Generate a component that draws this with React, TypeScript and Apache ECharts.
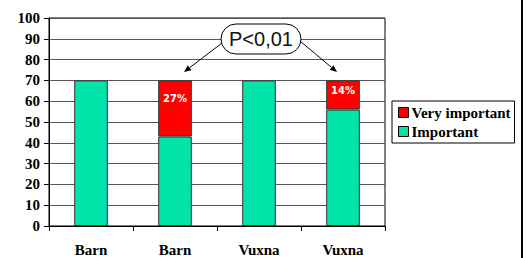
import React, { useEffect, useRef } from "react";
import * as echarts from "echarts";

const categories = ["Barn", "Barn", "Vuxna", "Vuxna"];
const importantValues = [70, 43, 70, 56];
const veryImportantValues: (number | null)[] = [null, 27, null, 14];
const veryLabelDistances = [0, 13, 0, 5];
const yTicks = { min: 0, max: 100, interval: 10 };
const annotationText = "P<0,01";

const SERIF = "'Liberation Serif', 'Times New Roman', serif";

function arrow(x1: number, y1: number, x2: number, y2: number) {
  const dx = x2 - x1, dy = y2 - y1;
  const len = Math.sqrt(dx * dx + dy * dy);
  const ux = dx / len, uy = dy / len;
  const hl = 7, hw = 3;
  const bx = x2 - ux * hl, by = y2 - uy * hl;
  const px = -uy * hw, py = ux * hw;
  return [
    { type: "line", shape: { x1, y1, x2: bx, y2: by }, style: { stroke: "#000", lineWidth: 1 }, z: 100 },
    { type: "polygon", shape: { points: [[x2, y2], [bx + px, by + py], [bx - px, by - py]] }, style: { fill: "#000" }, z: 100 },
  ];
}

export default function App() {
  const ref = useRef<HTMLDivElement>(null);
  useEffect(() => {
    const chart = echarts.init(ref.current!, null, { renderer: "svg" });
    chart.setOption({
      animation: false,
      backgroundColor: "#fff",
      grid: { left: 49, right: 141, top: 18, bottom: 32, show: true, borderColor: "#000", borderWidth: 1 },
      legend: {
        orient: "vertical",
        left: 392,
        top: 101,
        borderColor: "#000",
        borderWidth: 1,
        padding: [4, 4, 4, 6],
        itemGap: 4,
        itemWidth: 10,
        itemHeight: 10,
        icon: "rect",
        data: ["Very important", "Important"],
        textStyle: { fontFamily: SERIF, fontWeight: "bold", color: "#000", fontSize: 15, padding: [0, 0, 0, -2] },
        itemStyle: { borderColor: "#000", borderWidth: 1 },
      },
      xAxis: {
        type: "category",
        data: categories,
        axisLine: { lineStyle: { color: "#000", width: 1 } },
        axisTick: { show: true, length: 5, lineStyle: { color: "#000" } },
        axisLabel: { fontFamily: SERIF, fontWeight: "bold", color: "#000", fontSize: 15, margin: 16 },
      },
      yAxis: {
        type: "value",
        min: yTicks.min,
        max: yTicks.max,
        interval: yTicks.interval,
        axisLine: { show: true, lineStyle: { color: "#000", width: 1 } },
        axisTick: { show: true, length: 5, lineStyle: { color: "#000" } },
        axisLabel: { fontFamily: SERIF, fontWeight: "bold", color: "#000", fontSize: 15, margin: 9 },
        splitLine: { lineStyle: { color: "#555", width: 1 } },
      },
      series: [
        {
          name: "Important",
          type: "bar",
          stack: "total",
          barWidth: "40%",
          data: importantValues,
          itemStyle: { color: "#00E3A9", borderColor: "#333", borderWidth: 1 },
        },
        {
          name: "Very important",
          type: "bar",
          stack: "total",
          barWidth: "40%",
          data: veryImportantValues.map((v, i) =>
            v == null
              ? "-"
              : { value: v, label: { show: true, position: "insideTop", distance: veryLabelDistances[i] } }
          ),
          itemStyle: { color: "#FF0000", borderColor: "#333", borderWidth: 1 },
          label: {
            show: true,
            formatter: "{c}%",
            color: "#fff",
            fontFamily: "DejaVu Sans",
            fontWeight: "bold",
            fontSize: 10,
          },
        },
      ],
      graphic: [
        ...arrow(222, 43, 184, 72),
        ...arrow(300, 41, 337, 72),
        {
          type: "rect",
          shape: { x: 221, y: 24, width: 80, height: 30, r: 15 },
          style: { fill: "#fff", stroke: "#000", lineWidth: 1 },
          z: 101,
        },
        {
          type: "text",
          x: 261,
          y: 39,
          style: {
            text: annotationText,
            fill: "#111",
            font: "20px 'Liberation Sans'",
            align: "center",
            verticalAlign: "middle",
          },
          z: 102,
        },
        {
          type: "rect",
          shape: { x: 521, y: 0, width: 2, height: 258 },
          style: { fill: "#000" },
          z: 100,
        },
      ],
    });
    return () => chart.dispose();
  }, []);
  return <div ref={ref} style={{ position: "absolute", left: 0, top: 0, width: 526, height: 258 }} />;
}
